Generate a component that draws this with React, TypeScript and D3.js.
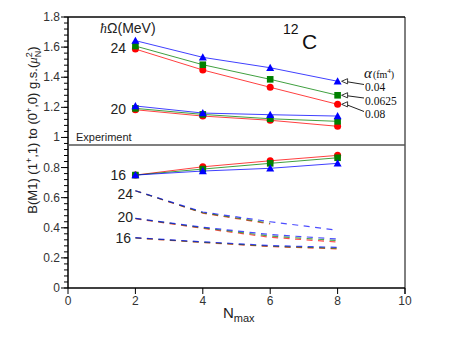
import React from 'react';
import * as d3 from 'd3';

// Nmax values and computed B(M1) values
const nmax = [2, 4, 6, 8];
const alphas = ['0.04', '0.0625', '0.08'];
const colors = ['#0000ff', '#008000', '#ff0000'];

// solid curves (with markers), per hbar-Omega, one array per alpha
const solid24 = [
  [1.643, 1.532, 1.463, 1.373],
  [1.607, 1.483, 1.386, 1.28],
  [1.587, 1.448, 1.333, 1.22],
];
const solid20 = [
  [1.209, 1.162, 1.151, 1.142],
  [1.193, 1.153, 1.124, 1.107],
  [1.184, 1.142, 1.114, 1.074],
];
const solid16 = [
  [0.75, 0.777, 0.795, 0.828],
  [0.75, 0.79, 0.828, 0.865],
  [0.75, 0.805, 0.845, 0.881],
];

// dashed curves (no markers)
const dashed24 = [
  [0.646, 0.505, 0.44, 0.384],
  [0.646, 0.5, 0.43],
  [0.646, 0.497, 0.425],
];
const dashed20 = [
  [0.463, 0.404, 0.355, 0.325],
  [0.462, 0.4, 0.345, 0.315],
  [0.46, 0.396, 0.337, 0.305],
];
const dashed16 = [
  [0.334, 0.307, 0.282, 0.27],
  [0.333, 0.304, 0.278, 0.264],
  [0.332, 0.302, 0.275, 0.26],
];

const experiment = 0.95;
const xTicks = [0, 2, 4, 6, 8, 10];
const yTicks = [0, 0.2, 0.4, 0.6, 0.8, 1, 1.2, 1.4, 1.6, 1.8];
const yLabels = ['0', '0.2', '0.4', '0.6', '0.8', '1', '1.2', '1.4', '1.6', '1.8'];

const W = 449;
const H = 347;
const margin = { left: 68, right: 44, top: 17, bottom: 59 };
const sans = 'Liberation Sans, Arial, sans-serif';
const serif = 'Liberation Serif, Times New Roman, serif';

export default function App() {
  const x = d3.scaleLinear().domain([0, 10]).range([margin.left, W - margin.right]);
  const y = d3.scaleLinear().domain([0, 1.8]).range([H - margin.bottom, margin.top]);
  const line = d3.line<number>().x((_, i) => x(nmax[i])).y(d => y(d));
  const minorTicks = d3.range(0, 1.8001, 0.04);

  // draw order: red, green, blue (blue on top)
  const order = [2, 1, 0];

  const marker = (k: number, cx: number, cy: number, key: string) => {
    const c = colors[k];
    if (k === 0) {
      const s = 4;
      return <path key={key} d={`M${cx},${cy - s}L${cx + s},${cy + s * 0.8}L${cx - s},${cy + s * 0.8}Z`} fill={c} />;
    }
    if (k === 1) return <rect key={key} x={cx - 3.3} y={cy - 3.3} width={6.6} height={6.6} fill={c} />;
    return <circle key={key} cx={cx} cy={cy} r={3.5} fill={c} />;
  };

  const solidGroups = [solid24, solid20, solid16];
  const dashedGroups = [dashed24, dashed20, dashed16];

  // legend text baselines (labels are packed closer than the markers)
  const legendBase = [91, 104.5, 118];

  const x0 = x(0), x1 = x(10), yb = y(0), yt = y(1.8);

  return (
    <svg width={W} height={H} style={{ position: 'absolute', left: 0, top: 0 }} fontFamily={sans}>
      <rect width={W} height={H} fill="#fff" />
      {/* frame */}
      <line x1={x0} x2={x1} y1={yt} y2={yt} stroke="#444" strokeWidth={2} />
      <line x1={x1} x2={x1} y1={yt} y2={yb + 6} stroke="#000" strokeWidth={1} />
      <line x1={x0} x2={x1} y1={yb} y2={yb} stroke="#000" strokeWidth={1.3} />
      <line x1={x0} x2={x0} y1={yt} y2={yb} stroke="#000" strokeWidth={1.5} />
      {/* experiment line */}
      <line x1={x0} x2={x1} y1={y(experiment)} y2={y(experiment)} stroke="#555" strokeWidth={1.5} />
      <text x={76} y={y(experiment) - 3.5} fontSize={11} fill="#222">Experiment</text>

      {/* y ticks */}
      {minorTicks.map((t, i) => (
        <line key={'m' + i} x1={x0 - 4} x2={x0} y1={y(t)} y2={y(t)} stroke="#000" strokeWidth={1} />
      ))}
      {yTicks.map((t, i) => (
        <g key={'y' + i}>
          <line x1={x0 - 7} x2={x0} y1={y(t)} y2={y(t)} stroke="#000" strokeWidth={1} />
          <text x={x0 - 8} y={y(t) + 4} fontSize={12} textAnchor="end" fill="#333">{yLabels[i]}</text>
        </g>
      ))}
      {/* x ticks */}
      {xTicks.map((t, i) => (
        <g key={'x' + i}>
          <line x1={x(t)} x2={x(t)} y1={yb} y2={yb + 6} stroke="#000" strokeWidth={1} />
          <text x={x(t)} y={yb + 17} fontSize={12} textAnchor="middle" fill="#333">{t}</text>
        </g>
      ))}
      <text x={223} y={318} fontSize={15} fill="#222">N<tspan fontSize={11} dy={4}>max</tspan></text>

      {/* y axis label */}
      <text transform={`translate(37,130) rotate(-90)`} textAnchor="middle" fontSize={13} fill="#222">
        B(M1) (1<tspan fontSize={9} dy={-5}>+</tspan><tspan dy={5}>,1) to (0</tspan><tspan fontSize={9} dy={-5}>+</tspan><tspan dy={5}>,0) g.s.(</tspan><tspan fontFamily={serif} fontStyle="italic">μ</tspan><tspan fontSize={9} dy={-5}>2</tspan><tspan fontSize={9} dx={-5} dy={9}>N</tspan><tspan dy={-4}>)</tspan>
      </text>

      {/* dashed curves */}
      {dashedGroups.map((g, gi) =>
        order.map(k => (
          <path key={`d${gi}${k}`} d={line(g[k]) || ''} fill="none" stroke={colors[k]} strokeOpacity={0.7}
            strokeWidth={1.2} strokeDasharray="6,5.5" />
        ))
      )}

      {/* solid curves */}
      {solidGroups.map((g, gi) =>
        order.map(k => (
          <g key={`s${gi}${k}`}>
            <path d={line(g[k]) || ''} fill="none" stroke={colors[k]} strokeOpacity={0.75} strokeWidth={1} />
            {g[k].map((v, i) => marker(k, x(nmax[i]), y(v), `mk${i}`))}
          </g>
        ))
      )}

      {/* hbar Omega labels */}
      <text x={100} y={33} fontSize={14} fill="#222"><tspan fontFamily={serif} fontStyle="italic">ħ</tspan>Ω(MeV)</text>
      <text x={126} y={53} fontSize={14} textAnchor="end" fill="#222">24</text>
      <text x={126} y={114} fontSize={14} textAnchor="end" fill="#222">20</text>
      <text x={126} y={180} fontSize={14} textAnchor="end" fill="#222">16</text>
      <text x={133} y={199} fontSize={14} textAnchor="end" fill="#222">24</text>
      <text x={133} y={222} fontSize={14} textAnchor="end" fill="#222">20</text>
      <text x={131} y={243} fontSize={14} textAnchor="end" fill="#222">16</text>

      {/* nucleus label */}
      <text x={283} y={34} fontSize={14} fill="#111">12</text>
      <text x={302} y={49} fontSize={21} fill="#111">C</text>

      {/* alpha legend with arrows */}
      <text x={364} y={78} fontSize={15} fontFamily={serif} fill="#111">
        <tspan fontStyle="italic">α</tspan><tspan fontSize={10} dx={1}>(fm</tspan><tspan fontSize={7} dy={-5}>4</tspan><tspan fontSize={10} dy={5}>)</tspan>
      </text>
      {alphas.map((a, k) => {
        const py = y(solid24[k][3]);
        const tipX = x(8) + 4;
        const ly = legendBase[k];
        return (
          <g key={'lg' + k}>
            <line x1={tipX + 5} x2={364} y1={py + 0.4} y2={ly - 6.5} stroke="#222" strokeWidth={1} />
            <path d={`M${tipX},${py}L${tipX + 6},${py - 2.6}L${tipX + 6},${py + 2.6}Z`} fill="#fff" stroke="#222" strokeWidth={0.9} />
            <text x={365} y={ly} fontSize={11.5} fontFamily={serif} fill="#111">{a}</text>
          </g>
        );
      })}
    </svg>
  );
}
